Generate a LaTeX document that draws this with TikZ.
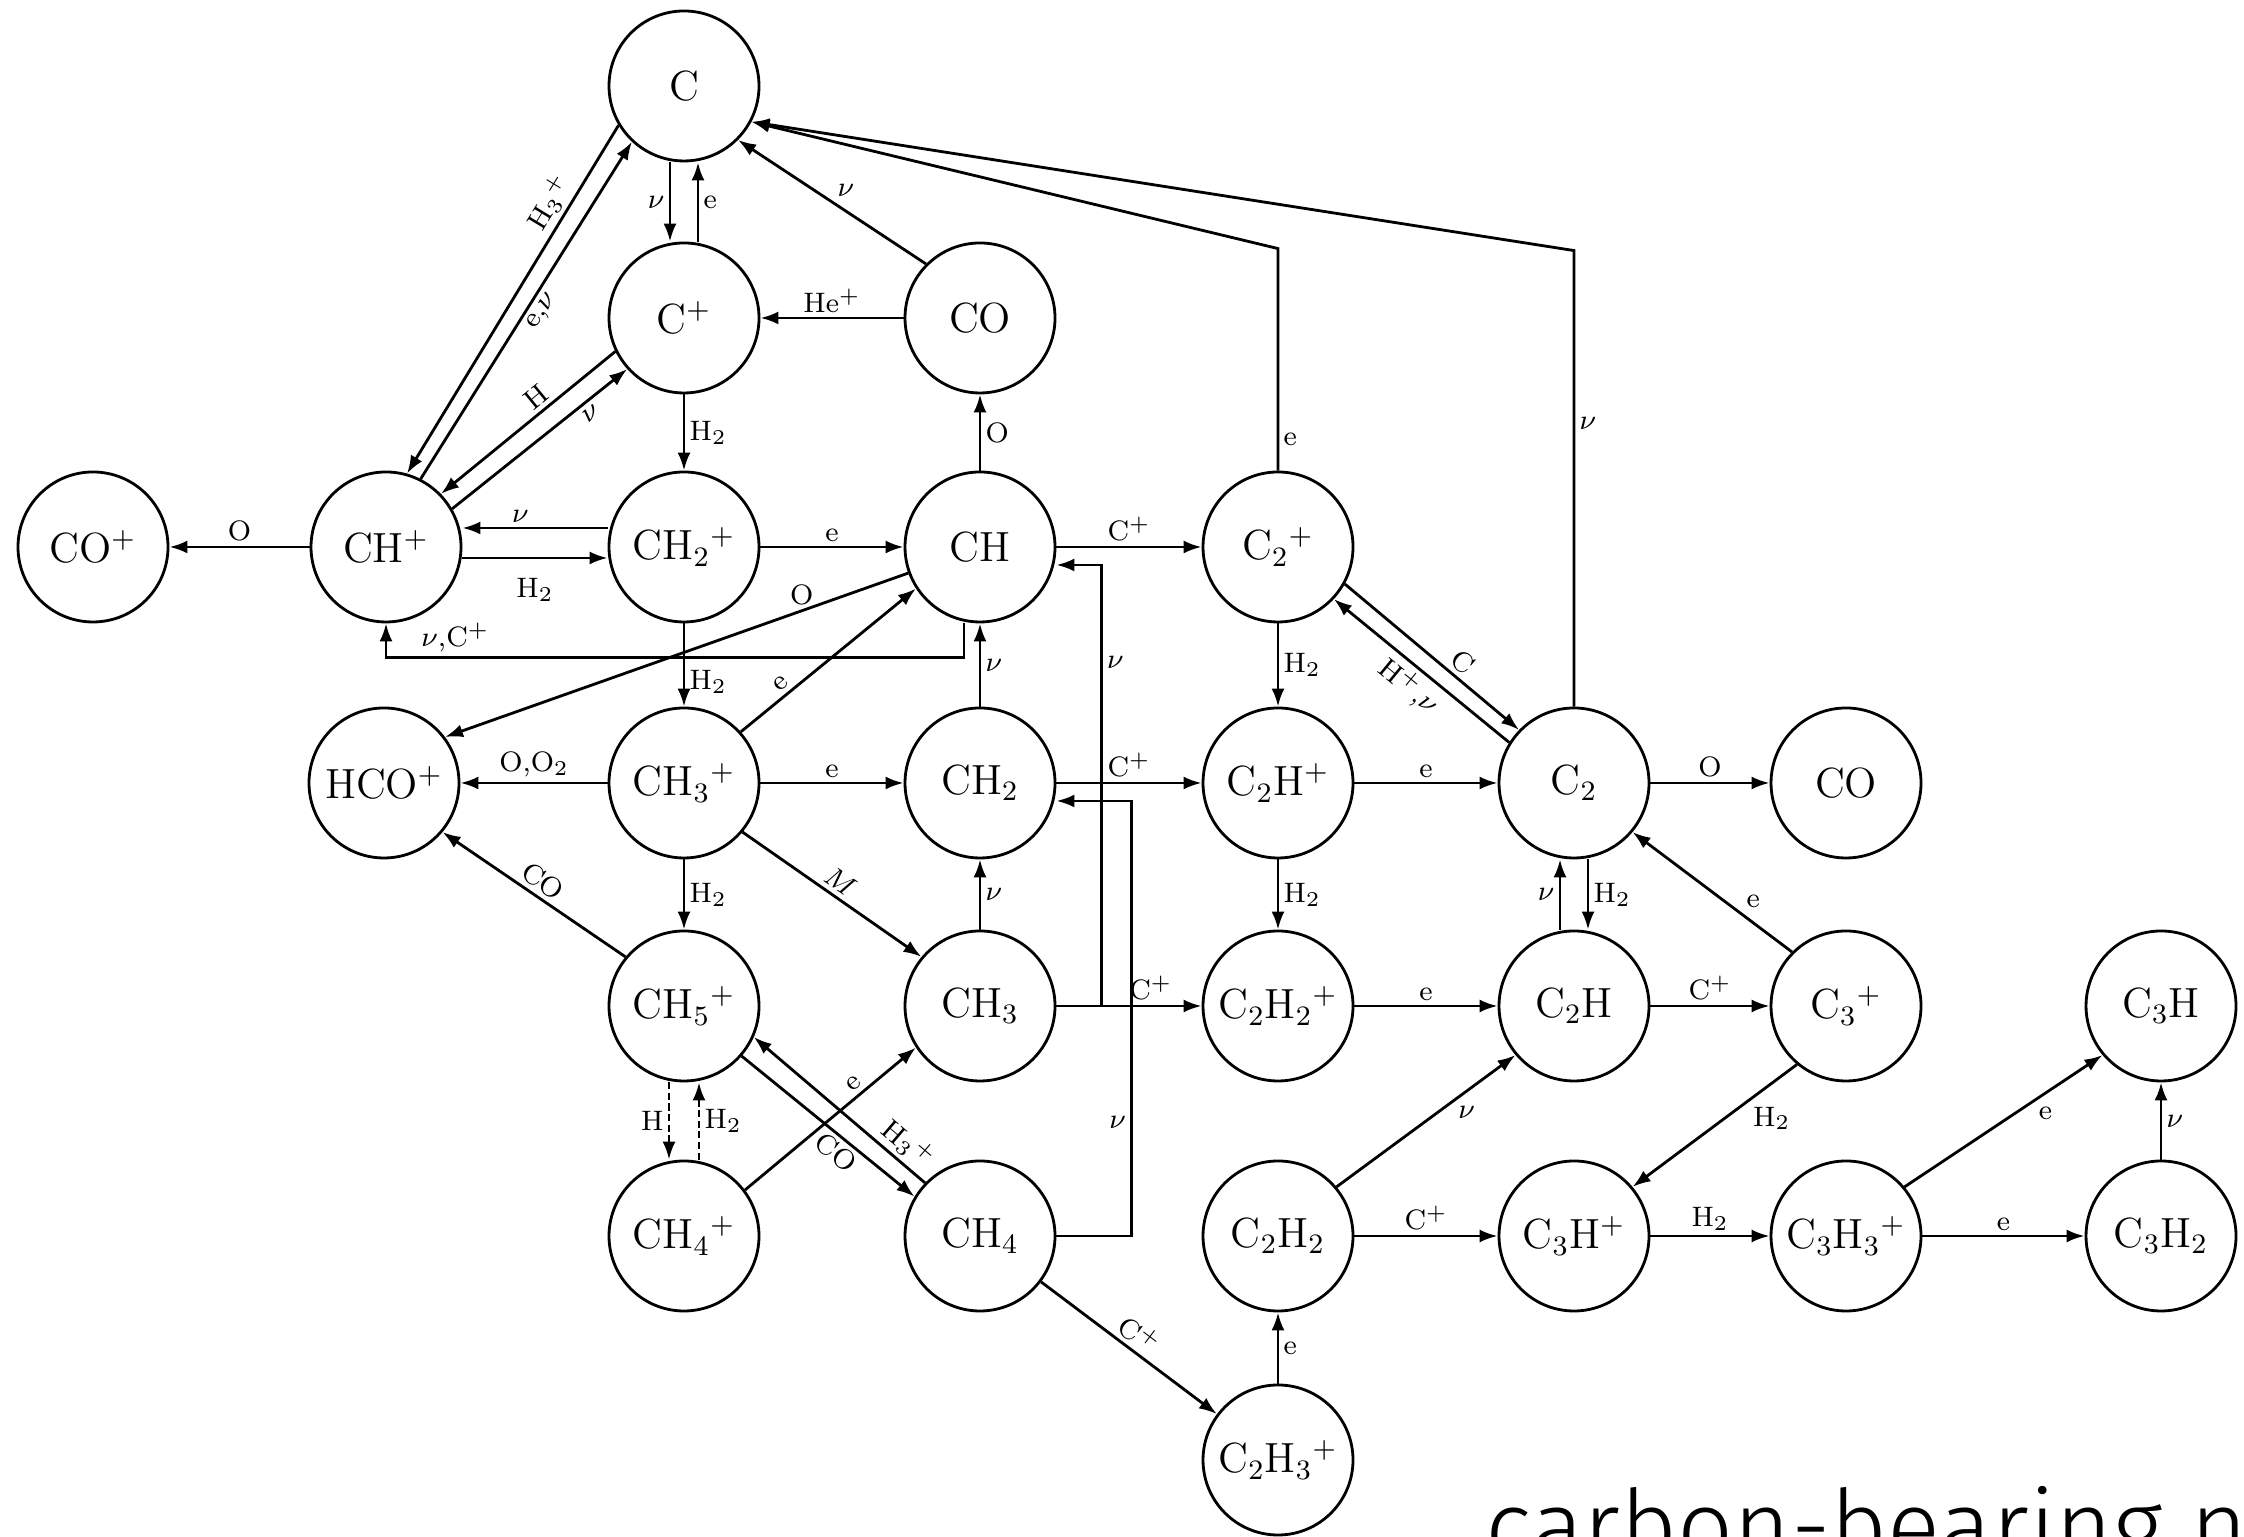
\documentclass[tikz,border=0pt]{standalone}
\usepackage{fontspec}
\usetikzlibrary{arrows.meta}
\newfontfamily\capfont{Fira Sans Light}
\begin{document}
\begin{tikzpicture}[
	sp/.style={draw,circle,minimum size=1.5cm,inner sep=0pt,line width=0.8pt,font=\fontsize{12}{14}\selectfont},
	rx/.style={-{Latex[length=1.8mm,width=1.3mm]},line width=0.8pt},
	lab/.style={font=\fontsize{8}{9}\selectfont,inner sep=1.2pt}
	]
				\useasboundingbox (0,0) rectangle (22.44,15.37);
				\clip (0,0) rectangle (22.44,15.37);
				
				\node[sp] (C) at (6.84,14.51) {C};
				\node[sp] (Cp) at (6.84,12.19) {C$^+$};
				\node[sp] (COa) at (9.80,12.19) {CO};
				\node[sp] (COp) at (0.93,9.90) {CO$^+$};
				\node[sp] (CHp) at (3.86,9.90) {CH$^+$};
				\node[sp] (CH2p) at (6.84,9.90) {CH$_2{}^+$};
				\node[sp] (CH) at (9.80,9.90) {CH};
				\node[sp] (C2p) at (12.78,9.90) {C$_2{}^+$};
				\node[sp] (HCOp) at (3.84,7.54) {HCO$^+$};
				\node[sp] (CH3p) at (6.84,7.54) {CH$_3{}^+$};
				\node[sp] (CH2) at (9.80,7.54) {CH$_2$};
				\node[sp] (C2Hp) at (12.78,7.54) {C$_2$H$^+$};
				\node[sp] (C2) at (15.74,7.54) {C$_2$};
				\node[sp] (COb) at (18.46,7.54) {CO};
				\node[sp] (CH5p) at (6.84,5.31) {CH$_5{}^+$};
				\node[sp] (CH3) at (9.80,5.31) {CH$_3$};
				\node[sp] (C2H2p) at (12.78,5.31) {C$_2$H$_2{}^+$};
				\node[sp] (C2H) at (15.74,5.31) {C$_2$H};
				\node[sp] (C3p) at (18.46,5.31) {C$_3{}^+$};
				\node[sp] (C3H) at (21.61,5.31) {C$_3$H};
				\node[sp] (CH4p) at (6.84,3.01) {CH$_4{}^+$};
				\node[sp] (CH4) at (9.80,3.01) {CH$_4$};
				\node[sp] (C2H2) at (12.78,3.01) {C$_2$H$_2$};
				\node[sp] (C3Hp) at (15.74,3.01) {C$_3$H$^+$};
				\node[sp] (C3H3p) at (18.46,3.01) {C$_3$H$_3{}^+$};
				\node[sp] (C3H2) at (21.61,3.01) {C$_3$H$_2$};
				\node[sp] (C2H3p) at (12.78,0.77) {C$_2$H$_3{}^+$};
				
				\draw[rx] ([xshift=-1.4mm]C.south) to node[lab,left]{$\nu$} ([xshift=-1.4mm]Cp.north);
				\draw[rx] ([xshift=1.4mm]Cp.north) to node[lab,right]{e} ([xshift=1.4mm]C.south);
				\draw[rx] (COa) to node[lab,above]{He$^+$} (Cp);
				\draw[rx] (COa.135) to node[lab,above right]{$\nu$} (C.-45);
				\draw[rx] (Cp) to node[lab,right]{H$_2$} (CH2p);
				\draw[rx] (CH) to node[lab,right]{O} (COa);
				\draw[rx] (CHp) to node[lab,above]{O} (COp);
				\draw[rx] ([yshift=1.9mm]CH2p.west) to node[lab,above,pos=0.6]{$\nu$} ([yshift=1.9mm]CHp.east);
				\draw[rx] ([yshift=-1.1mm]CHp.east) to node[lab,below=1.5mm,pos=0.5]{H$_2$} ([yshift=-1.1mm]CH2p.west);
				\draw[rx] (CH2p) to node[lab,above]{e} (CH);
				\draw[rx] (CH) to node[lab,above]{C$^+$} (C2p);
				\draw[rx] (C.211) to node[lab,sloped,above,pos=0.25]{H$_3{}^+$} (CHp.74);
				\draw[rx] (CHp.63) to node[lab,sloped,below,pos=0.52]{e,$\nu$} (C.227);
				\draw[rx] (Cp.206) to node[lab,sloped,above,pos=0.4]{H} (CHp.44);
				\draw[rx] (CHp.30) to node[lab,sloped,below,pos=0.75]{$\nu$} (Cp.222);
				\draw[rx] ([xshift=-1.6mm]CH.south) |- node[lab,above,pos=0.94]{$\nu$,C$^+$} ([yshift=-3.4mm]CHp.south) -- (CHp.south);
				\draw[rx] (CH.200) to node[lab,above,pos=0.23]{O} (HCOp.37);
				\draw[rx] (CH2p) to node[lab,right,pos=0.7]{H$_2$} (CH3p);
				\draw[rx] (CH3p.42) to node[lab,sloped,above,pos=0.27]{e} (CH.213);
				\draw[rx] (CH3p) to node[lab,above]{O,O$_2$} (HCOp);
				\draw[rx] (CH3p) to node[lab,above]{e} (CH2);
				\draw[rx] (CH3p) to node[lab,right]{H$_2$} (CH5p);
				\draw[rx] (CH3p.-40) to node[lab,sloped,above]{$M$} (CH3.140);
				\draw[rx] (CH5p.140) to node[lab,sloped,above]{CO} (HCOp.-40);
				\draw[rx] (CH2) to node[lab,right]{$\nu$} (CH);
				\draw[rx] (CH3) to node[lab,right]{$\nu$} (CH2);
				\draw[rx,dash pattern=on 2pt off 1pt] ([xshift=-1.5mm]CH5p.south) to node[lab,left]{H} ([xshift=-1.5mm]CH4p.north);
				\draw[rx,dash pattern=on 2pt off 1pt] ([xshift=1.5mm]CH4p.north) to node[lab,right]{H$_2$} ([xshift=1.5mm]CH5p.south);
				\draw[rx] (CH4p.37) to node[lab,sloped,above,pos=0.68]{e} (CH3.213);
				\draw[rx] (CH4.136) to node[lab,sloped,above,pos=0.17,inner sep=1pt]{H$_3{}^+$} (CH5p.-24);
				\draw[rx] (CH5p.-41) to node[lab,sloped,below,pos=0.6,inner sep=1pt]{CO} (CH4.149);
				\draw[rx] (CH4) to node[lab,sloped,above]{C$^+$} (C2H3p);
				\draw[rx] (CH2) to node[lab,above]{C$^+$} (C2Hp);
				\draw[rx] (CH3) to node[lab,above,pos=0.65]{C$^+$} (C2H2p);
				\draw[rx] (CH3.east) -| node[lab,right,pos=0.89]{$\nu$} ([xshift=4.5mm,yshift=-1.8mm]CH.east) -- ([yshift=-1.8mm]CH.east);
				\draw[rx] (CH4.east) -| node[lab,left,pos=0.63]{$\nu$} ([xshift=7.5mm,yshift=-1.8mm]CH2.east) -- ([yshift=-1.8mm]CH2.east);
				\draw[rx] (C2p.north) -- node[lab,right,pos=0.14]{e} ([yshift=2.22cm]C2p.north) -- (C.-28);
				\draw[rx] (C2.north) -- node[lab,right,pos=0.62]{$\nu$} ([yshift=4.56cm]C2.north) -- (C.-28);
				
				\draw[rx] (C2p) to node[lab,right]{H$_2$} (C2Hp);
				\draw[rx] (C2p.-29) to node[lab,sloped,above,pos=0.62]{C} (C2.136);
				\draw[rx] (C2.148) to node[lab,sloped,below,pos=0.5]{H$^+$,$\nu$} (C2p.-43);
				\draw[rx] (C2Hp) to node[lab,above]{e} (C2);
				\draw[rx] (C2Hp) to node[lab,right]{H$_2$} (C2H2p);
				\draw[rx] (C2) to node[lab,above]{O} (COb);
				\draw[rx] ([xshift=-1.4mm]C2H.north) to node[lab,left]{$\nu$} ([xshift=-1.4mm]C2.south);
				\draw[rx] ([xshift=1.4mm]C2.south) to node[lab,right]{H$_2$} ([xshift=1.4mm]C2H.north);
				\draw[rx] (C3p.135) to node[lab,above right,pos=0.32]{e} (C2.-40);
				\draw[rx] (C2H2p) to node[lab,above]{e} (C2H);
				\draw[rx] (C2H) to node[lab,above]{C$^+$} (C3p);
				\draw[rx] (C2H2.40) to node[lab,below right,pos=0.65]{$\nu$} (C2H.220);
				\draw[rx] (C3p.230) to node[lab,below right,pos=0.3]{H$_2$} (C3Hp.40);
				\draw[rx] (C2H2) to node[lab,above]{C$^+$} (C3Hp);
				\draw[rx] (C3Hp) to node[lab,above]{H$_2$} (C3H3p);
				\draw[rx] (C3H3p) to node[lab,above]{e} (C3H2);
				\draw[rx] (C3H3p.40) to node[lab,below right,pos=0.65]{e} (C3H.220);
				\draw[rx] (C3H2) to node[lab,right]{$\nu$} (C3H);
				\draw[rx] (C2H3p) to node[lab,right]{e} (C2H2);
				
				\node[font=\capfont\fontsize{28}{30}\selectfont,anchor=base west,inner sep=0pt] (cap) at (14.85,-0.24) {carbon-bearing ne};
			\end{tikzpicture}
\end{document}
